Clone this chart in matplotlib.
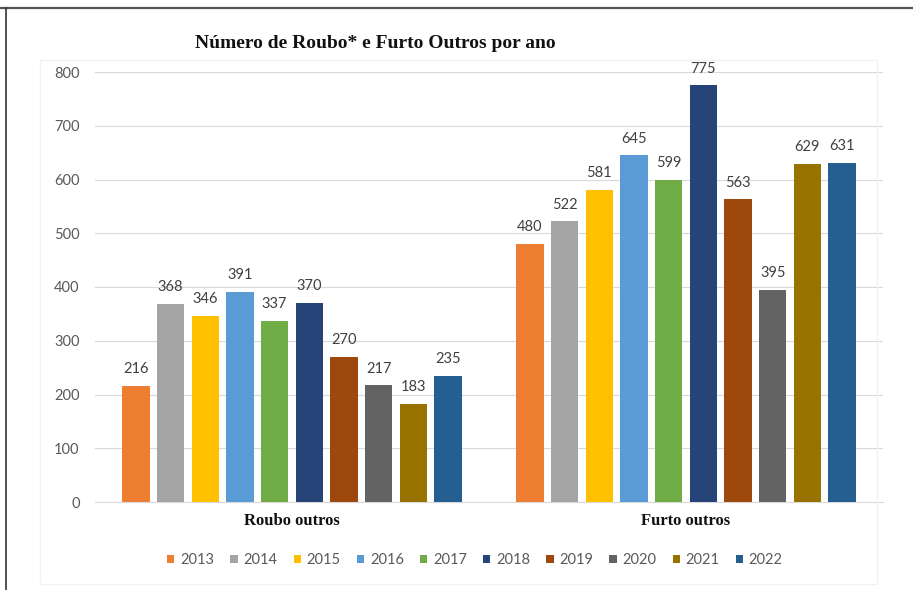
import matplotlib.pyplot as plt
from matplotlib.patches import Rectangle
from matplotlib.lines import Line2D
import numpy as np

# data
categories = ["Roubo outros", "Furto outros"]
years = ["2013", "2014", "2015", "2016", "2017", "2018", "2019", "2020", "2021", "2022"]
roubo = [216, 368, 346, 391, 337, 370, 270, 217, 183, 235]
furto = [480, 522, 581, 645, 599, 775, 563, 395, 629, 631]
colors = ["#ED7D31", "#A5A5A5", "#FFC000", "#5B9BD5", "#70AD47",
          "#264478", "#9E480E", "#636363", "#997300", "#255E91"]

W, H = 913, 590
fig = plt.figure(figsize=(W / 100, H / 100), dpi=100)

# page frame lines + faint chart image border
fig.add_artist(Line2D([0, 1], [1 - 8 / H, 1 - 8 / H], transform=fig.transFigure,
                      color="#555555", lw=1.6))
fig.add_artist(Line2D([6 / W, 6 / W], [0, 1 - 8 / H], transform=fig.transFigure,
                      color="#333333", lw=1.2))
fig.add_artist(Rectangle((40 / W, 1 - 584 / H), (877 - 40) / W, (584 - 60) / H,
                         transform=fig.transFigure, fill=False,
                         edgecolor="#F2F2F2", lw=1))

ax = fig.add_axes([95 / W, 1 - 502 / H, 788 / W, 430 / H])

pitch = 0.088
width = 0.07
x = np.arange(len(categories))
values = np.array([roubo, furto])  # shape (2, 10)

for i, yr in enumerate(years):
    pos = x + (i - 4.5) * pitch
    bars = ax.bar(pos, values[:, i], width=width, color=colors[i], label=yr, zorder=3)
    for b, v in zip(bars, values[:, i]):
        ax.annotate(str(v), (b.get_x() + b.get_width() / 2, v),
                    xytext=(0, 7), textcoords="offset points",
                    ha="center", va="bottom", fontsize=10.5, family="Lato",
                    color="#404040", annotation_clip=False)

ax.set_xlim(-0.5, 1.5)
ax.set_ylim(0, 800)
ax.set_yticks(range(0, 801, 100))
ax.grid(axis="y", color="#D9D9D9", lw=0.8, zorder=0)
for s in ["top", "right", "left"]:
    ax.spines[s].set_visible(False)
ax.spines["bottom"].set_color("#D9D9D9")
ax.tick_params(axis="y", length=0, pad=11, labelsize=10.5, labelcolor="#595959")
for lbl in ax.get_yticklabels():
    lbl.set_family("Lato")
ax.set_xticks(x)
ax.set_xticklabels(categories, family="Liberation Serif", fontweight="bold",
                   fontsize=12, color="#111111")
ax.tick_params(axis="x", length=0, pad=8)

fig.text(375 / W, 1 - 43 / H, "Número de Roubo* e Furto Outros por ano",
         ha="center", va="center", family="Liberation Serif",
         fontweight="bold", fontsize=14, color="#111111")

leg = fig.legend(loc="center", bbox_to_anchor=(475 / W, 1 - 560 / H), ncol=10,
                 frameon=False, handlelength=0.5, handleheight=0.5,
                 handletextpad=0.4, columnspacing=1.1, prop={"family": "Lato", "size": 10.5})
for t in leg.get_texts():
    t.set_color("#595959")

fig.savefig("out.png", dpi=100, facecolor="white")
